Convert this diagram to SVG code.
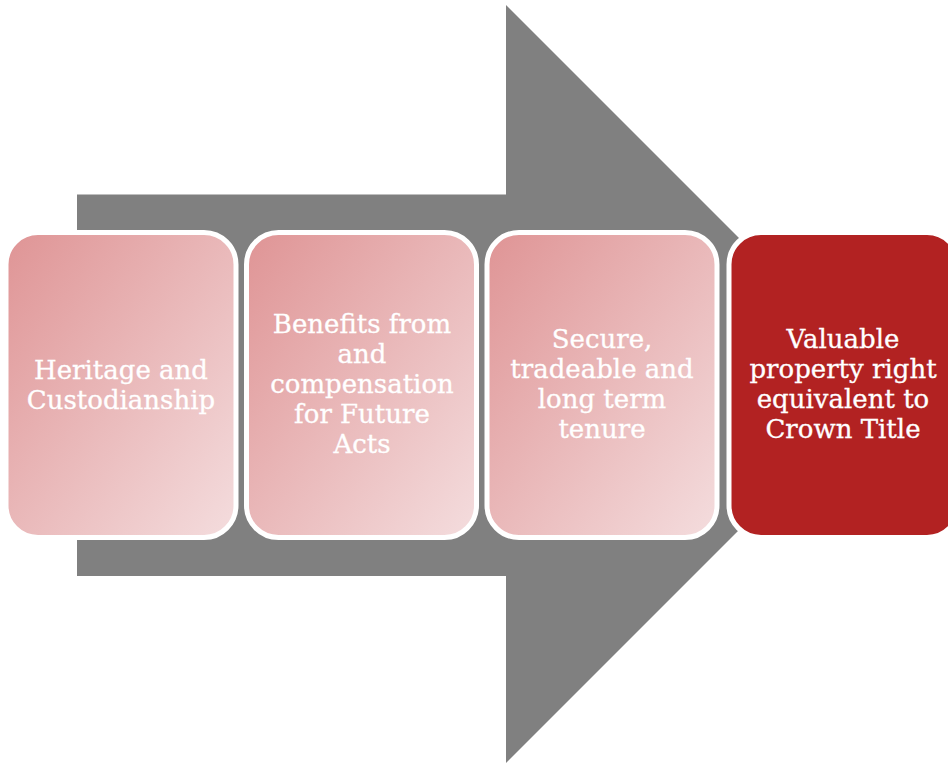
<svg xmlns="http://www.w3.org/2000/svg" width="948" height="764" viewBox="0 0 948 764">
<defs>
<linearGradient id="pink" x1="0" y1="0" x2="1" y2="1">
<stop offset="0" stop-color="#DF9495"/>
<stop offset="1" stop-color="#F4DDDE"/>
</linearGradient>
<style>
.box{stroke:#FFFFFF;stroke-width:5}
.pink{fill:url(#pink)}
.red{fill:#B22222}
.lbl{font-family:"DejaVu Serif","Liberation Serif",serif;font-size:26px;fill:#FFFFFF;text-anchor:middle;stroke:#FFFFFF;stroke-width:0.3}
</style>
</defs>
<g id="arrow">
<polygon points="77,194.5 506,194.5 506,5 885,384 506,763 506,576 77,576" fill="#808080"/>
</g>
<g id="node1">
<rect class="box pink" x="6" y="232.5" width="230" height="305" rx="32"/>
<text class="lbl" x="121" y="379">Heritage and</text>
<text class="lbl" x="121" y="408.5">Custodianship</text>
</g>
<g id="node2">
<rect class="box pink" x="246.5" y="232.5" width="230" height="305" rx="32"/>
<text class="lbl" x="362" y="333">Benefits from</text>
<text class="lbl" x="362" y="363">and</text>
<text class="lbl" x="362" y="393">compensation</text>
<text class="lbl" x="362" y="423">for Future</text>
<text class="lbl" x="362" y="453">Acts</text>
</g>
<g id="node3">
<rect class="box pink" x="487" y="232.5" width="230" height="305" rx="32"/>
<text class="lbl" x="602" y="348">Secure,</text>
<text class="lbl" x="602" y="378">tradeable and</text>
<text class="lbl" x="602" y="408">long term</text>
<text class="lbl" x="602" y="438">tenure</text>
</g>
<g id="node4">
<rect class="box red" x="729" y="232.5" width="230" height="305" rx="32"/>
<text class="lbl" x="843" y="348">Valuable</text>
<text class="lbl" x="843" y="378">property right</text>
<text class="lbl" x="843" y="408">equivalent to</text>
<text class="lbl" x="843" y="438">Crown Title</text>
</g>
</svg>
